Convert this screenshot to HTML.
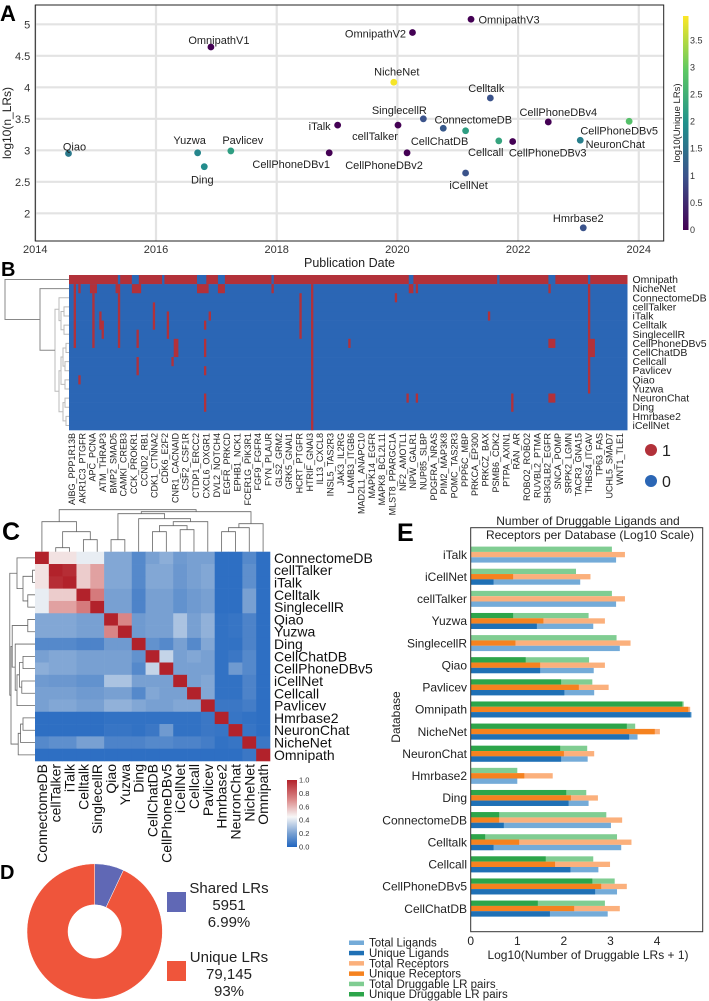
<!DOCTYPE html>
<html><head><meta charset="utf-8">
<style>
html,body{margin:0;padding:0;background:#fff;}
svg{display:block;font-family:"Liberation Sans",Arial,sans-serif;}
</style></head>
<body>
<svg id="fig" width="709" height="1001" viewBox="0 0 709 1001" xmlns="http://www.w3.org/2000/svg">
<g id="panelA"></g>
<g id="panelB"></g>
<g id="panelC"></g>
<g id="panelD"></g>
<g id="panelE"></g>
</svg>
<script>
// ---------- Panel A data ----------
const aNames = ["Qiao","Yuzwa","Ding","Pavlicev","OmnipathV1","CellPhoneDBv1","iTalk","NicheNet","cellTalker","SinglecellR","CellPhoneDBv2","OmnipathV2","OmnipathV3","ConnectomeDB","CellChatDB","iCellNet","Celltalk","Cellcall","CellPhoneDBv3","CellPhoneDBv4","NeuronChat","CellPhoneDBv5","Hmrbase2"];
const aYears = [2014.55,2016.69,2016.80,2017.24,2016.91,2018.87,2019.01,2019.94,2020.01,2020.43,2020.16,2020.25,2021.22,2020.76,2021.13,2021.13,2021.54,2021.68,2021.91,2022.50,2023.03,2023.84,2023.08];
const aLogLR = [2.95,2.96,2.74,2.99,4.64,2.96,3.40,4.08,3.40,3.50,2.96,4.87,5.08,3.35,3.31,2.64,3.83,3.15,3.14,3.45,3.16,3.46,1.77];
const aUnique = [1.6,1.8,1.9,2.2,0,0,0,3.9,0,1.0,0,0,0,1.1,2.2,1.0,1.0,2.3,0,0,1.7,2.8,1.0];
const aLabelOff = [[6,-7],[-8,-13],[-2,13],[12,-11],[8,-7],[-38,11],[-18,1],[3,-11],[-23,11],[-24,-9],[-23,12],[-37,1],[38,0],[30,-9],[-26,10],[3,12],[-4,-10],[-13,11],[35,11],[10,-10],[35,4],[-10,9],[-5,-10]];
const aXTicks = [2014,2016,2018,2020,2022,2024];
const aYTicks = [2,2.5,3,3.5,4,4.5,5];
const aCbTicks = [0,0.5,1,1.5,2,2.5,3,3.5];

// ---------- Panel B data ----------
const bRows = ["Omnipath","NicheNet","ConnectomeDB","cellTalker","iTalk","Celltalk","SinglecellR","CellPhoneDBv5","CellChatDB","Cellcall","Pavlicev","Qiao","Yuzwa","NeuronChat","Ding","Hmrbase2","iCellNet"];
const bCols = ["AIBG_PPP1R13B","AKR1C3_PTGFR","APC_PCNA","ATM_THRAP3","BMP2_SMAD5","CAMKI_CREB3","CCK_PROKR1","CCND2_RB1","CDK1_CTNNA2","CDK6_E2F2","CNR1_CACNAID","CSF2_CSF1R","CTDP1_ERCC2","CXCL6_OXGR1","DVL2_NOTCH4","EGFR_PRKCD","EPHB1_NCK1","FCER1G_PIK3R1","FGF9_FGFR4","FYN_PLAUR","GLS2_GRM2","GRK5_GNAI1","HCRT_PTGFR","HTRIF_GNAI3","IL13_CXCL8","INSL5_TAS2R3","JAK3_IL2RG","LAMB3_ITGB6","MAD2L1_ANAPC10","MAPK14_EGFR","MAPK8_BCL2L11","MLST8_PPARGC1A","NF2_AMOTL1","NPW_GALR1","NUP85_SLBP","PDGFRA_NRAS","PIM2_MAP3K8","POMC_TAS2R3","PPP6C_MBP","PRKCA_EP300","PRKCZ_BAX","PSMB6_CDK2","PTPA_AXIN1","RAN_AR","ROBO2_ROBO2","RUVBL2_PTMA","SH3GLB2_EGFR","SNCA_POMP","SRPK2_LGMN","TACR3_GNA15","THBS4_ITGAV","TP63_FAS","UCHL5_SMAD7","WNT1_TLE1"];
const bNumCells = 240;
const bOmnipathBlue = [[21,21],[27,29],[40,40],[55,58],[64,66],[87,87],[146,147],[184,184],[206,208],[223,223]];
const bRed1 = [[2,2],[4,4],[9,11],[20,21],[27,30],[55,59],[64,66],[87,87],[104,104],[146,147],[149,149],[206,206],[223,223]];
const bRed2 = [[2,2],[10,10],[21,21],[99,99],[104,104],[140,140],[223,223]];
const bRed3 = [[2,2],[10,10],[21,21],[36,36],[99,99],[104,104],[223,223]];
const bRed4 = [[2,2],[10,10],[13,13],[21,21],[36,36],[42,42],[60,60],[99,99],[104,104],[180,180],[223,223]];
const bRed5 = [[2,2],[10,10],[13,14],[21,21],[36,36],[42,42],[58,58],[99,99],[104,104],[223,223]];
const bRed6 = [[2,2],[10,10],[14,14],[21,21],[29,29],[42,42],[99,99],[104,104],[223,223]];
const bRed7 = [[2,2],[10,10],[21,21],[29,29],[45,46],[58,58],[104,104],[120,120],[206,208],[223,225]];
const bRed8 = [[45,46],[58,58],[104,104],[223,225]];
const bRed9 = [[29,29],[44,44],[104,104],[223,223]];
const bRed10 = [[29,29],[58,58],[104,104],[223,223]];
const bRed11 = [[4,4],[104,104],[223,223]];
const bRed12 = [[104,104],[223,223]];
const bRed13 = [[58,58],[104,104],[145,145],[149,149],[190,190],[206,208]];
const bRed14 = [[58,58],[104,104],[190,190]];
const bRed15 = [[104,104]];
const bRed16 = [[104,104]];

// ---------- Panel C data ----------
const cNames = ["ConnectomeDB","cellTalker","iTalk","Celltalk","SinglecellR","Qiao","Yuzwa","Ding","CellChatDB","CellPhoneDBv5","iCellNet","Cellcall","Pavlicev","Hmrbase2","NeuronChat","NicheNet","Omnipath"];
const cRow0 = [1,.5,.5,.42,.42,.22,.22,.12,.2,.24,.18,.2,.2,.03,.03,.12,.03];
const cRow1 = [.5,1,.97,.55,.65,.22,.22,.12,.22,.22,.17,.2,.22,.03,.03,.14,.03];
const cRow2 = [.5,.97,1,.55,.65,.22,.22,.12,.22,.22,.17,.2,.22,.03,.03,.14,.03];
const cRow3 = [.42,.55,.55,1,.75,.2,.2,.1,.2,.2,.15,.18,.2,.03,.03,.2,.03];
const cRow4 = [.42,.65,.65,.75,1,.2,.2,.1,.2,.2,.15,.18,.2,.03,.03,.2,.03];
const cRow5 = [.22,.22,.22,.2,.2,1,.72,.18,.2,.2,.3,.2,.25,.04,.05,.1,.03];
const cRow6 = [.22,.22,.22,.2,.2,.72,1,.18,.2,.2,.3,.2,.25,.04,.05,.1,.03];
const cRow7 = [.12,.12,.12,.1,.1,.18,.18,1,.15,.12,.2,.12,.22,.04,.04,.1,.03];
const cRow8 = [.2,.22,.22,.2,.2,.2,.2,.15,1,.35,.2,.22,.2,.04,.06,.12,.03];
const cRow9 = [.24,.22,.22,.2,.2,.2,.2,.12,.35,1,.2,.2,.2,.04,.18,.12,.03];
const cRow10 = [.18,.17,.17,.15,.15,.3,.3,.2,.2,.2,1,.2,.22,.04,.04,.1,.03];
const cRow11 = [.2,.2,.2,.18,.18,.2,.2,.12,.22,.2,.2,1,.22,.04,.04,.1,.03];
const cRow12 = [.2,.22,.22,.2,.2,.25,.25,.22,.2,.2,.22,.22,1,.06,.06,.08,.03];
const cRow13 = [.03,.03,.03,.03,.03,.04,.04,.04,.04,.04,.04,.04,.06,1,.05,.04,.03];
const cRow14 = [.03,.03,.03,.03,.03,.05,.05,.04,.06,.18,.04,.04,.06,.05,1,.05,.03];
const cRow15 = [.12,.14,.14,.2,.2,.1,.1,.1,.12,.12,.1,.1,.08,.04,.05,1,.06];
const cRow16 = [.03,.03,.03,.03,.03,.03,.03,.03,.03,.03,.03,.03,.03,.03,.03,.06,1];
const cCbTicks = [0,0.2,0.4,0.6,0.8,1.0];

// ---------- Panel D data ----------
const dLabels = ["Shared LRs","Unique LRs"];
const dCounts = ["5951","79,145"];
const dPcts = [6.99,93.01];
const dPctText = ["6.99%","93%"];

// ---------- Panel E data ----------
const eDbs = ["iTalk","iCellNet","cellTalker","Yuzwa","SinglecellR","Qiao","Pavlicev","Omnipath","NicheNet","NeuronChat","Hmrbase2","Ding","ConnectomeDB","Celltalk","Cellcall","CellPhoneDBv5","CellChatDB"];
const eTotalLig = [3.12,2.35,3.12,2.63,3.20,2.64,2.65,4.74,3.58,2.51,1.00,2.53,3.01,3.23,2.74,3.14,2.94];
const eUniqLig = [0,0.49,0,1.42,0,1.49,2.01,4.72,3.40,1.94,0,2.10,0.71,0.49,2.14,2.67,1.70];
const eTotalRec = [3.31,2.57,3.31,2.88,3.43,2.88,2.96,4.71,4.06,2.65,1.76,2.73,3.25,3.45,2.99,3.35,3.20];
const eUniqRec = [0,0.91,0,1.56,0.96,1.49,2.32,4.67,3.95,2.00,1.15,2.15,0.61,1.04,1.81,2.80,2.22];
const eTotalPair = [3.03,2.26,3.03,2.53,3.13,2.54,2.61,4.57,3.53,2.50,1.00,2.48,2.91,3.14,2.63,3.09,2.88];
const eUniqPair = [0,0,0,0.91,0,1.18,1.94,4.54,3.35,1.92,0,2.05,0.61,0.31,1.61,2.61,1.44];
const eXTicks = [0,1,2,3,4];
const eLegend = ["Total Ligands","Unique Ligands","Total Receptors","Unique Receptors","Total Druggable LR pairs","Unique Druggable LR pairs"];

// ---------- helpers ----------
const NS="http://www.w3.org/2000/svg";
function mk(parent,tag,attrs,text){const e=document.createElementNS(NS,tag);for(const k in attrs)e.setAttribute(k,attrs[k]);if(text!==undefined)e.textContent=text;parent.appendChild(e);return e;}
function lerp(a,b,t){return a+(b-a)*t;}
function interpStops(stops,t){t=Math.max(0,Math.min(1,t));for(let i=0;i<stops.length-1;i++){const s0=stops[i],s1=stops[i+1];if(t<=s1[0]){const u=(t-s0[0])/(s1[0]-s0[0]);return `rgb(${Math.round(lerp(s0[1],s1[1],u))},${Math.round(lerp(s0[2],s1[2],u))},${Math.round(lerp(s0[3],s1[3],u))})`;}}const l=stops[stops.length-1];return `rgb(${l[1]},${l[2]},${l[3]})`;}
const viridis=[[0,68,1,84],[0.25,59,82,139],[0.5,33,145,140],[0.75,94,201,98],[1,253,231,37]];
const rdbu=[[0,33,102,192],[0.2,120,160,210],[0.45,247,247,247],[0.7,220,140,140],[1,178,34,43]];

// ---------- Panel A ----------
(function(){
const g=document.getElementById('panelA');
const L=35.3,R=663.7,T=5,B=241;
const xS=y=>L+(y-2014)*60.35;
const yS=v=>24.3+(5-v)*63;
let t;
t=mk(g,'text',{x:0,y:21,'font-size':22,'font-weight':'bold'},'A');

aYTicks.forEach(v=>{const l=mk(g,'line',{x1:L,x2:R,y1:yS(v),y2:yS(v),stroke:'#e3e3e3','stroke-width':2.2});
 
 const tx=mk(g,'text',{x:L-5,y:yS(v)+4,'font-size':11,'text-anchor':'end',fill:'#333'},String(v));
 });
aXTicks.forEach(v=>{const l=mk(g,'line',{x1:xS(v),x2:xS(v),y1:T,y2:B,stroke:'#e3e3e3','stroke-width':2.2});
 
 const tx=mk(g,'text',{x:xS(v),y:253,'font-size':11,'text-anchor':'middle',fill:'#333'},String(v));
 });
const fr=mk(g,'rect',{x:L,y:T,width:R-L,height:B-T,fill:'none',stroke:'#222','stroke-width':1});

t=mk(g,'text',{x:(L+R)/2,y:267,'font-size':12.5,'text-anchor':'middle',fill:'#222'},'Publication Date');

t=mk(g,'text',{x:0,y:0,'font-size':12,'text-anchor':'middle',fill:'#222',transform:'translate(11,123) rotate(-90)'},'log10(n_LRs)');

aNames.forEach((n,i)=>{
 const cx=xS(aYears[i]),cy=yS(aLogLR[i]);
 const c=mk(g,'circle',{cx:cx,cy:cy,r:3.4,fill:interpStops(viridis,aUnique[i]/3.95)});
 
 const o=aLabelOff[i];
 const tx=mk(g,'text',{x:cx+o[0],y:cy+o[1]+4,'font-size':11,'text-anchor':'middle',fill:'#222'},n);
 
});
const defs=mk(g,'defs',{});
const lg=mk(defs,'linearGradient',{id:'vir',x1:0,y1:1,x2:0,y2:0});
viridis.forEach(s=>mk(lg,'stop',{offset:s[0],'stop-color':`rgb(${s[1]},${s[2]},${s[3]})`}));
const cb=mk(g,'rect',{x:683,y:16,width:5.5,height:214,fill:'url(#vir)'});

const cbY=v=>230-v/3.95*214;
aCbTicks.forEach(v=>{const tx=mk(g,'text',{x:690,y:cbY(v)+3,'font-size':9,fill:'#333'},String(v));
 });
t=mk(g,'text',{x:0,y:0,'font-size':9.5,'text-anchor':'middle',fill:'#222',transform:'translate(680,123) rotate(-90)'},'log10(Unique LRs)');

})();

// ---------- Panel B ----------
(function(){
const g=document.getElementById('panelB');
const X0=69,X1=627.5,Y0=275,Y1=430;
const rh=(Y1-Y0)/bRows.length, cw=(X1-X0)/bNumCells;
const red='#b2313a',blue='#2b66b5';
let t=mk(g,'text',{x:1,y:276,'font-size':20,'font-weight':'bold'},'B');

const reds=[null,bRed1,bRed2,bRed3,bRed4,bRed5,bRed6,bRed7,bRed8,bRed9,bRed10,bRed11,bRed12,bRed13,bRed14,bRed15,bRed16];
bRows.forEach((n,i)=>{
 const y=Y0+i*rh;
 const base=mk(g,'rect',{x:X0,y:y,width:X1-X0,height:rh+0.3,fill:i===0?red:blue});
 
 const list=i===0?bOmnipathBlue:reds[i];
 list.forEach(r=>{const c=mk(g,'rect',{x:X0+r[0]*cw,y:y,width:(r[1]-r[0]+1)*cw,height:rh+0.3,fill:i===0?blue:red});
  });
 const tx=mk(g,'text',{x:X1+5,y:y+rh/2+3.5,'font-size':10.5,fill:'#222'},n);
 
});
const dx=(620-72)/(bCols.length-1);
bCols.forEach((n,i)=>{const x=72+i*dx;
 const tx=mk(g,'text',{x:0,y:0,'font-size':9,'text-anchor':'end',fill:'#222',transform:`translate(${x+3},${Y1+3}) rotate(-90)`},n);
 });
const merges=[[3,4,5],[5,6,5],[17,18,8],[2,19,10],[11,12,4],[7,8,3],[9,10,4],[22,23,6],[24,21,8],[13,14,4],[15,16,3],[26,27,6],[25,28,10],[20,29,14],[1,30,29],[0,31,64]];
const pos=bRows.map((_,i)=>[Y0+(i+0.5)*rh,0]);
merges.forEach(m=>{const a=pos[m[0]],b=pos[m[1]],h=m[2];
 const col=h>20?'#888':'#bbb';
 const p=mk(g,'path',{d:`M${X0-a[1]},${a[0]}H${X0-h}V${b[0]}H${X0-b[1]}`,fill:'none',stroke:col,'stroke-width':1});
 
 pos.push([(a[0]+b[0])/2,h]);});
const c1=mk(g,'circle',{cx:651,cy:450,r:6,fill:red});
t=mk(g,'text',{x:662,y:456,'font-size':16,fill:'#222'},'1');
const c0=mk(g,'circle',{cx:651,cy:481,r:6,fill:blue});
t=mk(g,'text',{x:662,y:487,'font-size':16,fill:'#222'},'0');
})();

// ---------- Panel C ----------
(function(){
const g=document.getElementById('panelC');
const X0=35,X1=270,Y0=551.7,Y1=761;
const n=cNames.length,cw=(X1-X0)/n,ch=(Y1-Y0)/n;
const rows=[cRow0,cRow1,cRow2,cRow3,cRow4,cRow5,cRow6,cRow7,cRow8,cRow9,cRow10,cRow11,cRow12,cRow13,cRow14,cRow15,cRow16];
let t=mk(g,'text',{x:2,y:540,'font-size':25,'font-weight':'bold'},'C');

rows.forEach((r,i)=>r.forEach((v,j)=>{
 const c=mk(g,'rect',{x:X0+j*cw,y:Y0+i*ch,width:cw+0.3,height:ch+0.3,fill:interpStops(rdbu,v)});
 }));
cNames.forEach((nm,i)=>{
 const tx=mk(g,'text',{x:X1+4,y:Y0+(i+0.5)*ch+5,'font-size':14,fill:'#111'},nm);
 
 const tc=mk(g,'text',{x:0,y:0,'font-size':14,'text-anchor':'end',fill:'#111',transform:`translate(${X0+(i+0.5)*cw+5},${Y1+3}) rotate(-90)`},nm);
 
});
const merges=[[1,2,4],[3,4,12],[17,18,20],[0,19,30],[5,6,12],[8,9,20],[10,11,22],[22,23,26],[24,12,30],[7,25,33],[21,26,38],[13,14,20],[28,15,24],[29,16,28],[27,30,40],[20,31,42]];
const posT=cNames.map((_,i)=>[X0+(i+0.5)*cw,0]);
const posL=cNames.map((_,i)=>[Y0+(i+0.5)*ch,0]);
merges.forEach(m=>{
 const a=posT[m[0]],b=posT[m[1]],h=m[2];
 let p=mk(g,'path',{d:`M${a[0]},${Y0-a[1]}V${Y0-h}H${b[0]}V${Y0-b[1]}`,fill:'none',stroke:'#666','stroke-width':0.8});
 
 posT.push([(a[0]+b[0])/2,h]);
 const a2=posL[m[0]],b2=posL[m[1]],h2=h*0.6;
 p=mk(g,'path',{d:`M${X0-a2[1]},${a2[0]}H${X0-h2}V${b2[0]}H${X0-b2[1]}`,fill:'none',stroke:'#666','stroke-width':0.8});
 
 posL.push([(a2[0]+b2[0])/2,h2]);
});
const defs=mk(g,'defs',{});
const lg=mk(defs,'linearGradient',{id:'rdbu',x1:0,y1:1,x2:0,y2:0});
rdbu.forEach(s=>mk(lg,'stop',{offset:s[0],'stop-color':`rgb(${s[1]},${s[2]},${s[3]})`}));
const cb=mk(g,'rect',{x:287,y:780,width:10,height:67,fill:'url(#rdbu)'});

cCbTicks.forEach(v=>{const tx=mk(g,'text',{x:299,y:847-v*67+2.5,'font-size':7.5,fill:'#333'},v.toFixed(1));
 });
})();

// ---------- Panel D ----------
(function(){
const g=document.getElementById('panelD');
const cx=94.7,cy=931.5,R=67.7,r=26.7;
const cols=['#6068b5','#ef553b'];
let t=mk(g,'text',{x:0,y:879,'font-size':20,'font-weight':'bold'},'D');

const total=dPcts.reduce((a,b)=>a+b,0);let ang=0;
dPcts.forEach((p,i)=>{
 const a0=ang/total*2*Math.PI,a1=(ang+p)/total*2*Math.PI;ang+=p;
 const pt=(rad,a)=>[cx+rad*Math.sin(a),cy-rad*Math.cos(a)];
 const [x0,y0]=pt(R,a0),[x1,y1]=pt(R,a1),[x2,y2]=pt(r,a1),[x3,y3]=pt(r,a0);
 const lf=(a1-a0)>Math.PI?1:0;
 const s=mk(g,'path',{d:`M${x0},${y0}A${R},${R} 0 ${lf} 1 ${x1},${y1}L${x2},${y2}A${r},${r} 0 ${lf} 0 ${x3},${y3}Z`,fill:cols[i],stroke:'#fff','stroke-width':0.5});
 
 const ly=i===0?892:961;
 const pr=mk(g,'rect',{x:167,y:ly,width:19,height:20,fill:cols[i]});
 
 const lines=[dLabels[i],dCounts[i],dPctText[i]];
 lines.forEach((s2,k)=>{const tx=mk(g,'text',{x:229,y:ly+1+k*17,'font-size':15,'text-anchor':'middle',fill:'#222'},s2);
  });
});
})();

// ---------- Panel E ----------
(function(){
const g=document.getElementById('panelE');
const L=470.7,R=702.7,T=527.7,B=931.7;
const xS=v=>L+v*46.6;
const rowY=i=>554.3+i*22.125;
const colors={tl:'#74abd8',ul:'#1f70b5',tr:'#fbb07c',ur:'#f5821f',tp:'#80cd92',up:'#2ca54a'};
let t=mk(g,'text',{x:397,y:541,'font-size':25,'font-weight':'bold'},'E');

t=mk(g,'text',{x:588,y:525,'font-size':12,'text-anchor':'middle',fill:'#222'},'Number of Druggable Ligands and');

const bw=5.33;
eDbs.forEach((n,i)=>{
 const y=rowY(i)-7.7;
 const bars=[[eTotalPair[i],colors.tp,'total-pairs'],[eUniqPair[i],colors.up,'unique-pairs'],[eTotalRec[i],colors.tr,'total-receptors'],[eUniqRec[i],colors.ur,'unique-receptors'],[eTotalLig[i],colors.tl,'total-ligands'],[eUniqLig[i],colors.ul,'unique-ligands']];
 bars.forEach((b,k)=>{const slot=Math.floor(k/2);
  const r=mk(g,'rect',{x:L,y:y+slot*bw,width:Math.max(0,xS(b[0])-L),height:bw,fill:b[1]});
  });
 const tx=mk(g,'text',{x:467,y:rowY(i)+4.5,'font-size':12,'text-anchor':'end',fill:'#222'},n);
 
});
const fr=mk(g,'rect',{x:L,y:T,width:R-L,height:B-T,fill:'none',stroke:'#333','stroke-width':1});

const tb=mk(g,'rect',{x:486,y:530,width:208,height:11,fill:'#fff'});

t=mk(g,'text',{x:590,y:539,'font-size':12,'text-anchor':'middle',fill:'#222'},'Receptors per Database (Log10 Scale)');

eXTicks.forEach(v=>{const tx=mk(g,'text',{x:xS(v),y:945,'font-size':12,'text-anchor':'middle',fill:'#222'},String(v));
 });
t=mk(g,'text',{x:588,y:959,'font-size':12,'text-anchor':'middle',fill:'#222'},'Log10(Number of Druggable LRs + 1)');

t=mk(g,'text',{x:0,y:0,'font-size':12,'text-anchor':'middle',fill:'#222',transform:'translate(400,717) rotate(-90)'},'Database');

const lc=[colors.tl,colors.ul,colors.tr,colors.ur,colors.tp,colors.up];
eLegend.forEach((s,i)=>{const y=942.7+i*10.3;
 const p=mk(g,'rect',{x:349,y:y-2.2,width:15,height:4.5,fill:lc[i]});
 
 const tx=mk(g,'text',{x:369,y:y+4,'font-size':11.5,fill:'#222'},s);
 });
})();
</script>
</body></html>
